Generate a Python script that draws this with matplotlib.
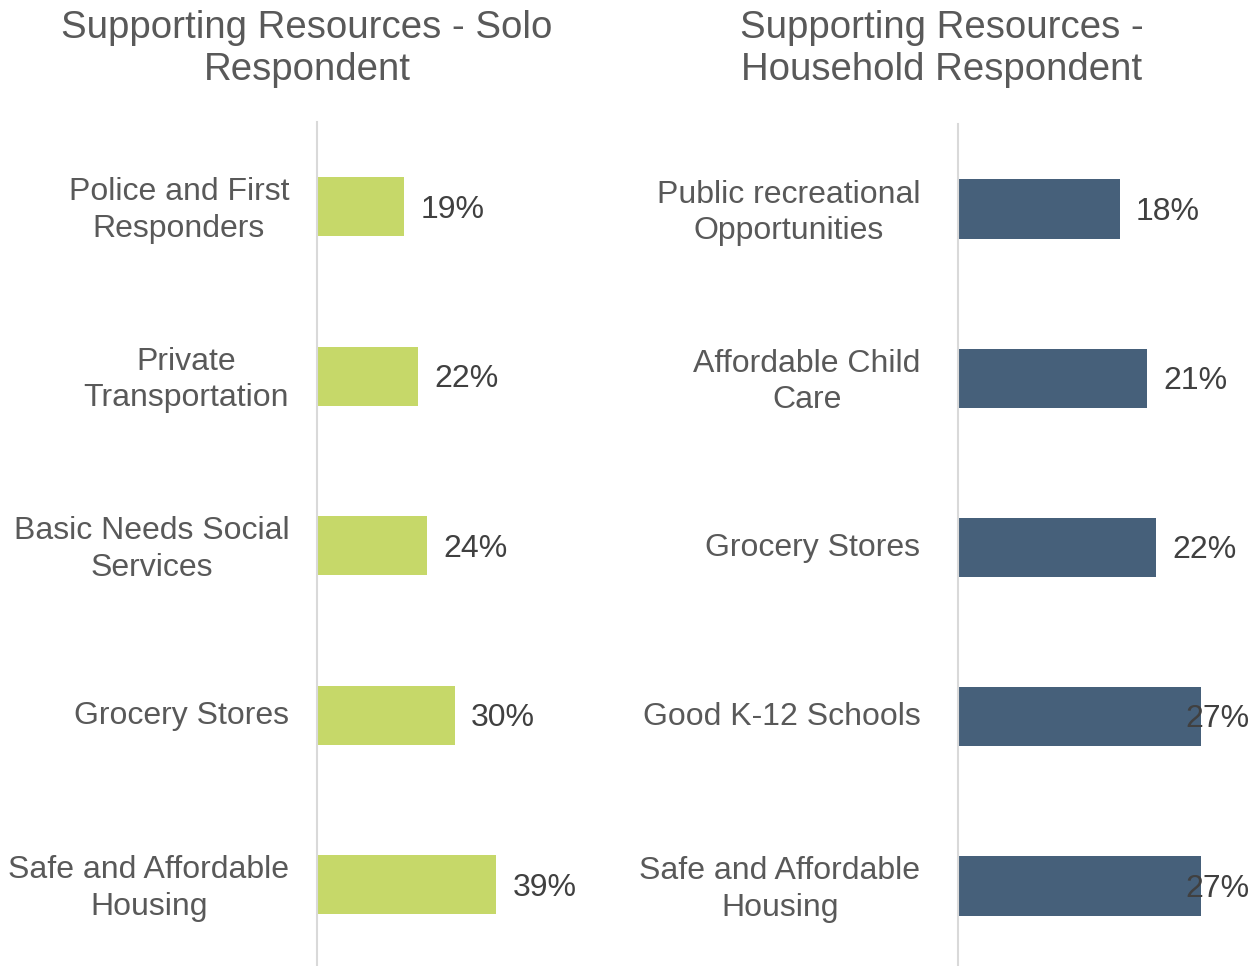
import matplotlib.pyplot as plt
from matplotlib.transforms import ScaledTranslation

# Daten: Anteil der Befragten je Ressource
solo_labels = ['Police and First\nResponders', 'Private\nTransportation',
               'Basic Needs Social\nServices', 'Grocery Stores',
               'Safe and Affordable\nHousing']
solo_values = [19, 22, 24, 30, 39]

house_labels = ['Public recreational\nOpportunities', 'Affordable Child\nCare',
                'Grocery Stores', 'Good K-12 Schools',
                'Safe and Affordable\nHousing']
house_values = [18, 21, 22, 27, 27]

plt.rcParams['font.family'] = ['Liberation Sans', 'DejaVu Sans']

W, H = 1257, 966
fig = plt.figure(figsize=(W / 100, H / 100), dpi=100)

def px_axes(left, top, width, height):
    return fig.add_axes([left / W, 1 - (top + height) / H, width / W, height / H])

def panel(ax, labels, values, color, xmax, title, title_x, pad, inside_from=None):
    y = range(len(values))
    ax.barh(y, values, height=0.35, color=color)
    ax.set_xlim(0, xmax)
    ax.set_ylim(len(values) - 0.5, -0.5)
    ax.set_yticks(list(y))
    ax.set_yticklabels(labels, fontsize=23, color='#595959',
                       multialignment='center', linespacing=1.29)
    ax.tick_params(axis='y', length=0, pad=pad)
    # Kategorienamen etwas nach oben schieben
    up = ScaledTranslation(0, 3 / 100, fig.dpi_scale_trans)
    for lbl in ax.get_yticklabels():
        lbl.set_transform(lbl.get_transform() + up)
    ax.set_xticks([])
    for s in ['top', 'right', 'bottom']:
        ax.spines[s].set_visible(False)
    ax.spines['left'].set_color('#D9D9D9')
    ax.spines['left'].set_linewidth(1.5)
    for i, v in enumerate(values):
        # Werte am Balkenende; zu lange Balken bekommen das Label nach innen
        dx = -11 if (inside_from is not None and v >= inside_from) else 11.5
        ax.annotate(f'{v}%', (v, i), xytext=(dx, -2), textcoords='offset points',
                    va='center', ha='left', fontsize=23, color='#404040')
    fig.text(title_x / W, 1 - 10 / H, title, ha='center', va='top', fontsize=27.6,
             color='#595959', linespacing=1.21)

ax1 = px_axes(317, 122, 260, 847.5)
panel(ax1, solo_labels, solo_values, '#C6D869', 260 / 4.6,
      'Supporting Resources - Solo\nRespondent', 307, pad=20)

ax2 = px_axes(958, 124.5, 299, 846)
panel(ax2, house_labels, house_values, '#46607A', 299 / 9.0,
      'Supporting Resources -\nHousehold Respondent', 942, pad=27, inside_from=27)

fig.savefig('out.png', dpi=100)
